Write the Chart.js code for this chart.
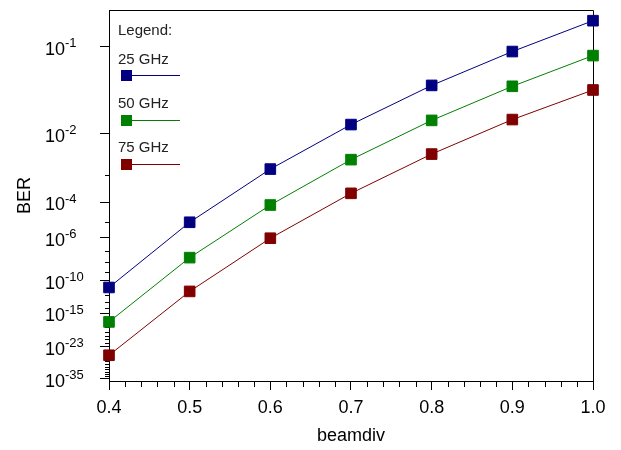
<!DOCTYPE html>
<html>
<head>
<meta charset="utf-8">
<script src="https://cdn.jsdelivr.net/npm/chart.js@4"></script>
<style>
  body { margin: 0; background: #fff; }
  canvas { display: block; }
</style>
</head>
<body>
<canvas id="chart" width="621" height="450"></canvas>
<script>
// beam divergence values on the x axis
const beamdiv = [0.4, 0.5, 0.6, 0.7, 0.8, 0.9, 1.0];
// BER for each channel spacing
const ber25 = [1.3e-11, 9.8e-6, 1.5e-3, 1.43e-2, 4.7e-2, 9.2e-2, 1.41e-1];
const ber50 = [1.6e-17, 2.7e-8, 7.4e-5, 2.7e-3, 1.67e-2, 4.6e-2, 8.6e-2];
const ber75 = [1.5e-26, 3.7e-12, 9.6e-7, 2.3e-4, 3.7e-3, 1.72e-2, 4.2e-2];
const seriesLabels = ['25 GHz', '50 GHz', '75 GHz'];
const seriesColors = ['#000080', '#008000', '#800000'];
// labelled BER ticks (powers of ten)
const yTickExps = [-1, -2, -4, -6, -10, -15, -23, -35];
// y axis ends, given as Q factor (top / bottom)
const qTop = 1, qBottom = 12.64;

const FONT = "'Liberation Sans', Arial, sans-serif";

// ln of the gaussian tail probability, erfc approx from Numerical Recipes
function lnTail(q) {
  const z = q / Math.SQRT2;
  const t = 1 / (1 + 0.5 * z);
  const r = -z * z - 1.26551223 + t * (1.00002368 + t * (0.37409196 + t * (0.09678418 +
    t * (-0.18628806 + t * (0.27886807 + t * (-1.13520398 + t * (1.48851587 +
    t * (-0.82215223 + t * 0.17087277))))))));
  return Math.log(t) + r - Math.LN2;
}
// BER -> Q factor (bisection)
function qOf(ber) {
  const target = Math.log(ber);
  let lo = 0, hi = 40;
  for (let i = 0; i < 80; i++) {
    const mid = (lo + hi) / 2;
    if (lnTail(mid) > target) lo = mid; else hi = mid;
  }
  return (lo + hi) / 2;
}
// the BER axis is linear in log10(Q)
const yOf = ber => Math.log10(qOf(ber));

const berAxis = {
  id: 'berAxis',
  beforeDatasetsDraw(chart) {
    const { ctx, chartArea: a, scales: { x, y } } = chart;
    ctx.save();
    ctx.strokeStyle = '#000';
    ctx.lineWidth = 1;
    // top and right frame
    ctx.beginPath();
    ctx.moveTo(a.left, a.top + 0.5);
    ctx.lineTo(a.right + 0.5, a.top + 0.5);
    ctx.lineTo(a.right + 0.5, a.bottom);
    ctx.stroke();
    // minor ticks, y
    ctx.beginPath();
    for (let e = -2; e >= -36; e--) {
      if (yTickExps.includes(e)) continue;
      const py = Math.round(y.getPixelForValue(yOf(Math.pow(10, e)))) + 0.5;
      if (py > a.bottom) continue;
      ctx.moveTo(a.left - 4, py);
      ctx.lineTo(a.left, py);
    }
    // minor ticks, x
    for (let i = 1; i < 30; i++) {
      if (i % 5 === 0) continue;
      const px = Math.round(x.getPixelForValue(0.4 + i * 0.02)) + 0.5;
      ctx.moveTo(px, a.bottom);
      ctx.lineTo(px, a.bottom + 6);
    }
    ctx.stroke();
    // y labels 10^n
    ctx.fillStyle = '#000';
    ctx.textAlign = 'left';
    ctx.textBaseline = 'alphabetic';
    yTickExps.forEach(e => {
      const py = y.getPixelForValue(yOf(Math.pow(10, e)));
      ctx.font = '18px ' + FONT;
      ctx.fillText('10', 45, py + 8.3);
      const w = ctx.measureText('10').width;
      ctx.font = '13px ' + FONT;
      ctx.fillText(String(e), 45 + w, py + 0.5);
    });
    ctx.restore();
  },
  afterDatasetsDraw(chart) {
    const { ctx } = chart;
    ctx.save();
    ctx.fillStyle = '#222';
    ctx.font = '15px ' + FONT;
    ctx.textAlign = 'left';
    ctx.textBaseline = 'middle';
    ctx.fillText('Legend:', 118, 31);
    seriesLabels.forEach((lab, i) => {
      const ty = 59.5 + i * 44;
      const my = 75 + i * 44.5;
      ctx.fillStyle = '#222';
      ctx.fillText(lab, 118, ty);
      ctx.strokeStyle = seriesColors[i];
      ctx.lineWidth = 1;
      ctx.beginPath();
      ctx.moveTo(127, Math.round(my) + 0.5);
      ctx.lineTo(180, Math.round(my) + 0.5);
      ctx.stroke();
      ctx.fillStyle = seriesColors[i];
      ctx.fillRect(121, Math.round(my) - 5, 11, 11);
    });
    ctx.restore();
  }
};

const seriesData = [ber25, ber50, ber75];
const datasets = seriesData.map((arr, i) => ({
  label: seriesLabels[i],
  data: arr.map((b, j) => ({ x: beamdiv[j], y: yOf(b) })),
  borderColor: seriesColors[i],
  backgroundColor: seriesColors[i],
  borderWidth: 1,
  pointStyle: 'rect',
  pointRadius: 7.5,
  pointBorderWidth: 1,
  pointBackgroundColor: seriesColors[i],
  pointBorderColor: seriesColors[i],
  tension: 0,
  clip: false
}));

new Chart(document.getElementById('chart'), {
  type: 'line',
  data: { datasets },
  options: {
    responsive: false,
    animation: false,
    layout: { padding: { left: 0, right: 28, top: 10, bottom: 0 } },
    plugins: { legend: { display: false }, tooltip: { enabled: false } },
    scales: {
      x: {
        type: 'linear',
        min: 0.4,
        max: 1.0,
        afterFit: s => { s.height = 69; },
        grid: { display: true, drawOnChartArea: false, drawTicks: true, tickLength: 9, color: '#000' },
        border: { display: true, color: '#000' },
        ticks: {
          stepSize: 0.1,
          padding: 7,
          color: '#000',
          font: { family: FONT, size: 18 },
          callback: v => v.toFixed(1)
        },
        title: {
          display: true,
          text: 'beamdiv',
          color: '#000',
          font: { family: FONT, size: 18 },
          padding: { top: 0, bottom: 3 }
        }
      },
      y: {
        type: 'linear',
        reverse: true,
        min: Math.log10(qTop),
        max: Math.log10(qBottom),
        afterFit: s => { s.width = 109; },
        afterBuildTicks: s => {
          s.ticks = yTickExps.map(e => ({ value: yOf(Math.pow(10, e)) }));
        },
        grid: { display: true, drawOnChartArea: false, drawTicks: true, tickLength: 9, color: '#000' },
        border: { display: true, color: '#000' },
        ticks: { display: false },
        title: {
          display: true,
          text: 'BER',
          color: '#000',
          font: { family: FONT, size: 18 },
          padding: { top: 14, bottom: 0 }
        }
      }
    }
  },
  plugins: [berAxis]
});
</script>
</body>
</html>
